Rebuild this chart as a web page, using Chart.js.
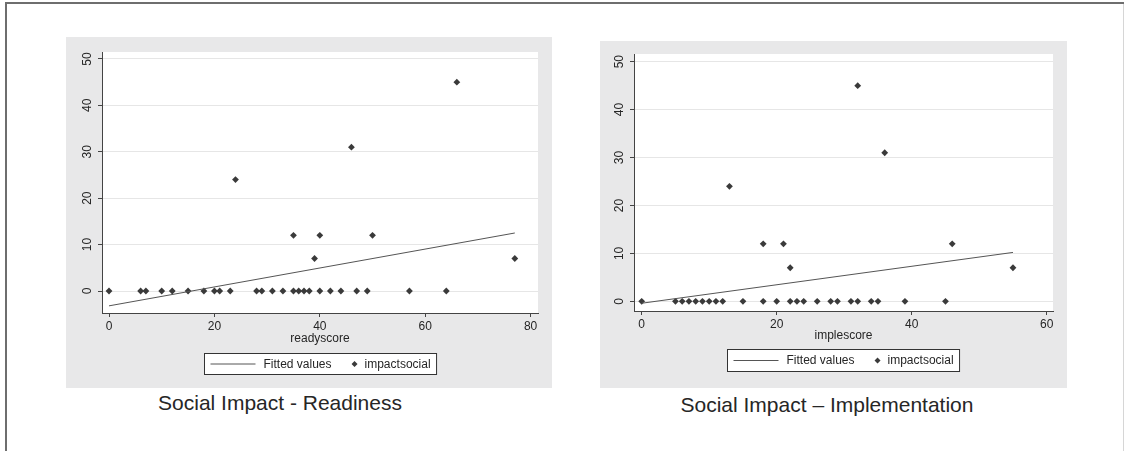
<!DOCTYPE html>
<html>
<head>
<meta charset="utf-8">
<script src="https://cdn.jsdelivr.net/npm/chart.js@4.4.1/dist/chart.umd.min.js"></script>
<style>
  body { margin: 0; width: 1125px; height: 451px; background: #fff; position: relative; overflow: hidden;
         font-family: "Liberation Sans", Arial, sans-serif; }
  .frame-top { position: absolute; left: 5px; top: 2px; width: 1119px; height: 2px; background: #6e6e6e; }
  .frame-left { position: absolute; left: 5px; top: 2px; width: 2px; height: 449px; background: #6e6e6e; }
  .frame-right { position: absolute; left: 1123px; top: 4px; width: 1px; height: 447px; background: #d6d6d6; }
  canvas { position: absolute; background: #e8e8e9; }
  #readyChart { left: 66px; top: 37px; }
  #impleChart { left: 600px; top: 41px; }
  .caption { position: absolute; font-size: 21px; line-height: 24px; color: #262626;
             transform: translateX(-50%); white-space: nowrap; }
</style>
</head>
<body>
<div class="frame-top"></div>
<div class="frame-left"></div>
<div class="frame-right"></div>
<canvas id="readyChart" width="486" height="351"></canvas>
<canvas id="impleChart" width="467" height="347"></canvas>
<div class="caption" style="left:280px; top:391px;">Social Impact - Readiness</div>
<div class="caption" style="left:827px; top:393px;">Social Impact – Implementation</div>
<script>
// tick labels
const yTicks = [0, 10, 20, 30, 40, 50];
const readyXTicks = [0, 20, 40, 60, 80];
const impleXTicks = [0, 20, 40, 60];

// readiness panel
const readyScore  = [0, 6, 7, 10, 12, 15, 18, 20, 21, 23, 24, 28, 29, 31, 33, 35, 35, 36, 37, 38, 39, 40, 40, 42, 44, 46, 47, 49, 50, 57, 64, 66, 77];
const readyImpact = [0, 0, 0, 0, 0, 0, 0, 0, 0, 0, 24, 0, 0, 0, 0, 0, 12, 0, 0, 0, 7, 0, 12, 0, 0, 31, 0, 0, 12, 0, 0, 45, 7];
const readyFitX = [0, 77];
const readyFitY = [-3.2, 12.5];

// implementation panel
const impleScore  = [0, 5, 6, 7, 8, 9, 10, 11, 12, 13, 15, 18, 18, 20, 21, 22, 22, 23, 24, 26, 28, 29, 31, 32, 32, 34, 35, 36, 39, 45, 46, 55];
const impleImpact = [0, 0, 0, 0, 0, 0, 0, 0, 0, 24, 0, 0, 12, 0, 12, 0, 7, 0, 0, 0, 0, 0, 0, 0, 45, 0, 0, 31, 0, 0, 12, 7];
const impleFitX = [0, 55];
const impleFitY = [-0.4, 10.2];

const FONT = "'Liberation Sans', Arial, sans-serif";

// white plot region on the grey panel
const plotBg = {
  id: "plotBg",
  beforeDraw(chart) {
    const a = chart.chartArea;
    chart.ctx.save();
    chart.ctx.fillStyle = "#fff";
    chart.ctx.fillRect(a.left, a.top, a.right - a.left, a.bottom - a.top);
    chart.ctx.restore();
  }
};

// boxed legend under the x title, Stata style
const boxLegend = {
  id: "boxLegend",
  afterDraw(chart, args, opts) {
    const ctx = chart.ctx;
    const a = chart.chartArea;
    ctx.save();
    ctx.font = "12px " + FONT;
    const t1 = "Fitted values", t2 = "impactsocial";
    const w1 = ctx.measureText(t1).width, w2 = ctx.measureText(t2).width;
    const boxW = 98 + w1 + w2;
    const left = Math.round((a.left + a.right) / 2 - boxW / 2) + 0.5;
    const top = Math.round(a.bottom + opts.offset) + 0.5;
    const h = opts.height;
    const cy = top + h / 2;
    ctx.fillStyle = "#fff";
    ctx.fillRect(left, top, boxW, h);
    ctx.strokeStyle = "#333";
    ctx.lineWidth = 1;
    ctx.strokeRect(left, top, boxW, h);
    ctx.strokeStyle = "#555";
    ctx.beginPath();
    ctx.moveTo(left + 6, cy);
    ctx.lineTo(left + 51, cy);
    ctx.stroke();
    ctx.fillStyle = "#262626";
    ctx.textBaseline = "middle";
    ctx.fillText(t1, left + 59, cy + 0.5);
    const dx = left + 59 + w1 + 23;
    ctx.fillStyle = "#3a3a3a";
    ctx.beginPath();
    ctx.moveTo(dx, cy - 3);
    ctx.lineTo(dx + 3, cy);
    ctx.lineTo(dx, cy + 3);
    ctx.lineTo(dx - 3, cy);
    ctx.closePath();
    ctx.fill();
    ctx.fillStyle = "#262626";
    ctx.fillText(t2, dx + 10, cy + 0.5);
    ctx.restore();
  }
};

function makeChart(id, xs, ys, fitX, fitY, xTicks, xTitle, cfg) {
  const points = xs.map((x, i) => ({ x: x, y: ys[i] }));
  const fit = fitX.map((x, i) => ({ x: x, y: fitY[i] }));
  return new Chart(document.getElementById(id).getContext("2d"), {
    type: "scatter",
    data: {
      datasets: [{
        type: "line",
        label: "Fitted values",
        data: fit,
        borderColor: "#555",
        borderWidth: 1,
        pointRadius: 0,
        fill: false
      }, {
        label: "impactsocial",
        data: points,
        pointStyle: "rectRot",
        pointRadius: 3.4,
        backgroundColor: "#3a3a3a",
        borderColor: "#3a3a3a",
        borderWidth: 0
      }]
    },
    plugins: [plotBg, boxLegend],
    options: {
      responsive: false,
      animation: false,
      devicePixelRatio: 1,
      layout: { padding: cfg.padding },
      plugins: {
        legend: { display: false },
        tooltip: { enabled: false },
        boxLegend: { offset: cfg.legendOffset, height: cfg.legendHeight }
      },
      scales: {
        x: {
          type: "linear",
          min: cfg.xMin,
          max: cfg.xMax,
          afterBuildTicks: s => { s.ticks = xTicks.map(v => ({ value: v })); },
          afterFit: s => { s.height = cfg.xAxisHeight; },
          border: { color: "#444", width: 1 },
          grid: { drawOnChartArea: false, tickLength: 4, color: "#444" },
          ticks: { font: { family: FONT, size: 12 }, color: "#262626", padding: 2, maxRotation: 0 },
          title: { display: true, text: xTitle, font: { family: FONT, size: 12 }, color: "#262626",
                   padding: { top: 0, bottom: 0 } }
        },
        y: {
          type: "linear",
          min: cfg.yMin,
          max: cfg.yMax,
          afterBuildTicks: s => { s.ticks = yTicks.map(v => ({ value: v })); },
          afterFit: s => { s.width = cfg.yAxisWidth; },
          border: { color: "#444", width: 1 },
          grid: { color: "#e6e6e6", tickColor: "#444", tickLength: 4 },
          ticks: { font: { family: FONT, size: 12 }, color: "#262626", padding: 4,
                   minRotation: 90, maxRotation: 90, crossAlign: "center" }
        }
      }
    }
  });
}

makeChart("readyChart", readyScore, readyImpact, readyFitX, readyFitY, readyXTicks, "readyscore", {
  xMin: -1.33, xMax: 81.4, yMin: -4.74, yMax: 51.5,
  padding: { left: 0, right: 14, top: 15, bottom: 42 },
  yAxisWidth: 36, xAxisHeight: 33,
  legendOffset: 40, legendHeight: 21
});

makeChart("impleChart", impleScore, impleImpact, impleFitX, impleFitY, impleXTicks, "implescore", {
  xMin: -1.14, xMax: 60.93, yMin: -2.02, yMax: 51.6,
  padding: { left: 0, right: 14, top: 13, bottom: 45 },
  yAxisWidth: 34, xAxisHeight: 32,
  legendOffset: 38, legendHeight: 22
});
</script>
</body>
</html>
